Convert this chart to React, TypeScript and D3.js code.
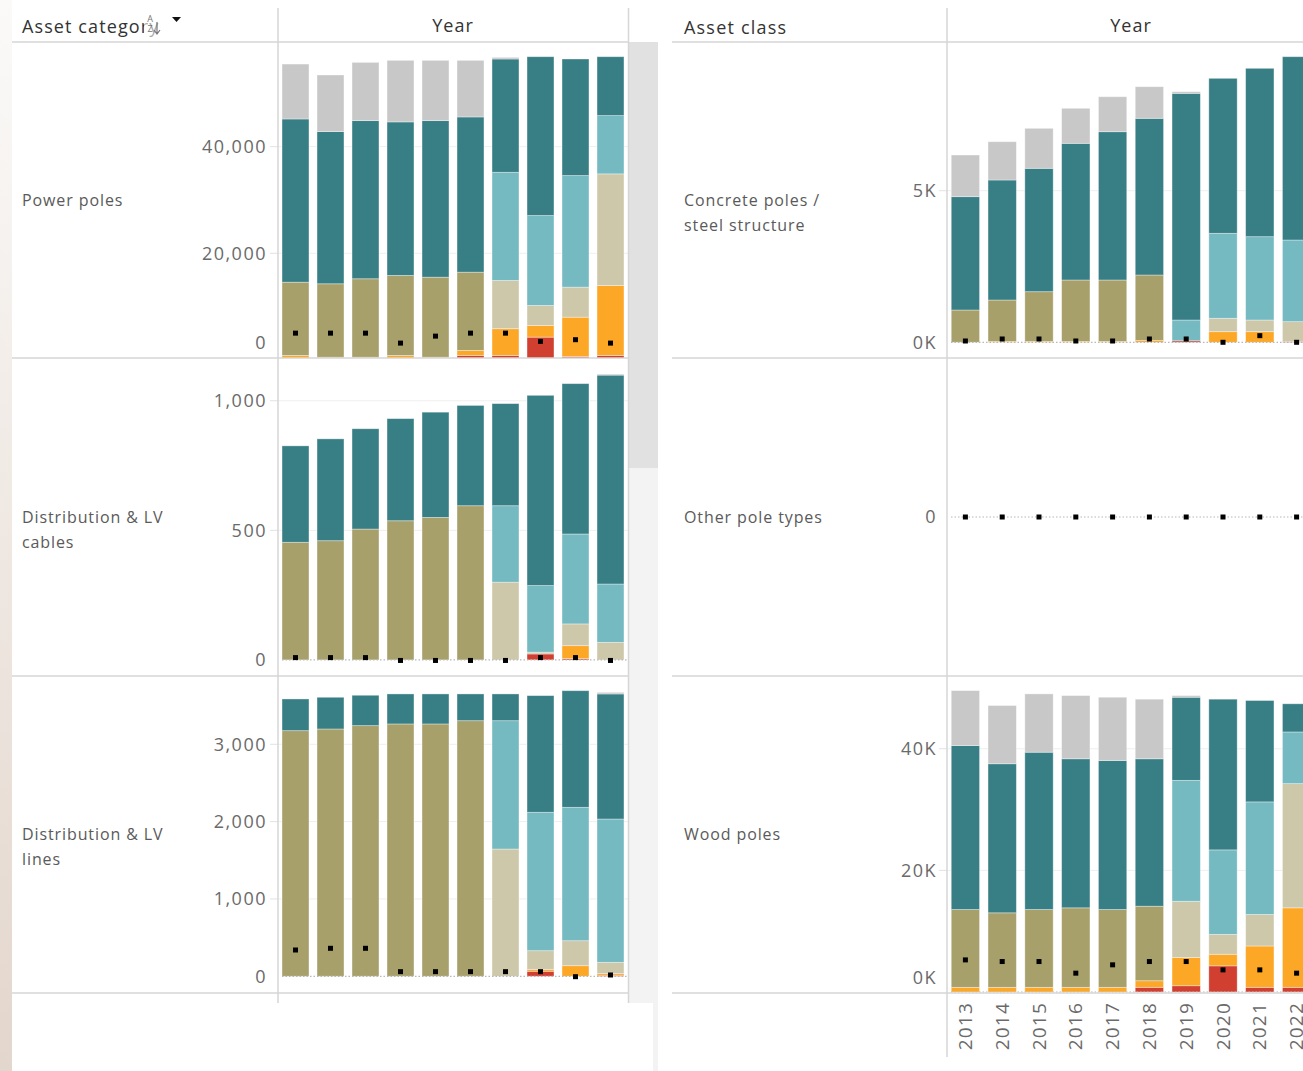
import React from "react";
import * as d3 from "d3";

const years = ["2013", "2014", "2015", "2016", "2017", "2018", "2019", "2020", "2021", "2022"];
const seriesKeys = ["veryPoor", "poor", "fairLegacy", "fair", "good", "veryGood", "unrated"];
const seriesColors = ["#d03f30", "#fda726", "#a8a06b", "#cdc8aa", "#75b9c1", "#387e85", "#c8c8c8"];

const powerPoles = {
  veryPoor: [0, 0, 0, 0, 0, 840, 840, 4270, 650, 840],
  poor: [840, 500, 500, 840, 500, 940, 5010, 2200, 7370, 13120],
  fairLegacy: [13740, 13780, 14720, 15000, 15020, 14680, 0, 0, 0, 0],
  fair: [0, 0, 0, 0, 0, 0, 9050, 3740, 5630, 20940],
  good: [0, 0, 0, 0, 0, 0, 20300, 16870, 20930, 10930],
  veryGood: [30620, 28550, 29670, 28810, 29370, 29120, 21250, 29800, 21870, 11050],
  unrated: [10300, 10620, 10930, 11550, 11310, 10620, 310, 0, 0, 0],
};
const powerPolesMarker = [5020, 5020, 5020, 3150, 4460, 5020, 5020, 3470, 3790, 3150];

const cables = {
  veryPoor: [0, 0, 0, 0, 0, 0, 0, 23, 5, 0],
  poor: [0, 0, 0, 0, 0, 0, 0, 0, 50, 0],
  fairLegacy: [454, 460, 505, 537, 550, 595, 0, 0, 0, 0],
  fair: [0, 0, 0, 0, 0, 0, 300, 7, 84, 68],
  good: [0, 0, 0, 0, 0, 0, 295, 257, 347, 225],
  veryGood: [372, 393, 387, 394, 406, 387, 394, 734, 580, 806],
  unrated: [0, 0, 0, 0, 0, 0, 0, 0, 0, 4],
};
const cablesMarker = [9, 9, 9, -2, -2, -2, -2, 9, 9, -2];

const lines = {
  veryPoor: [0, 0, 0, 0, 0, 0, 0, 65, 0, 13],
  poor: [0, 0, 0, 0, 0, 0, 0, 25, 137, 21],
  fairLegacy: [3176, 3198, 3241, 3263, 3263, 3305, 0, 0, 0, 0],
  fair: [0, 0, 0, 0, 0, 0, 1646, 241, 323, 147],
  good: [0, 0, 0, 0, 0, 0, 1659, 1790, 1725, 1853],
  veryGood: [410, 410, 393, 388, 388, 346, 346, 1508, 1508, 1617],
  unrated: [0, 0, 0, 0, 0, 0, 0, 0, 0, 21],
};
const linesMarker = [340, 362, 362, 60, 60, 60, 60, 60, -5, 17];

const concrete = {
  veryPoor: [0, 0, 0, 0, 0, 0, 50, 0, 0, 30],
  poor: [0, 30, 30, 30, 30, 60, 0, 350, 350, 0],
  fairLegacy: [1065, 1365, 1639, 2025, 2025, 2160, 0, 0, 0, 0],
  fair: [0, 0, 0, 0, 0, 0, 0, 442, 385, 650],
  good: [0, 0, 0, 0, 0, 0, 685, 2803, 2748, 2694],
  veryGood: [3738, 3958, 4070, 4508, 4891, 5168, 7477, 5112, 5554, 6046],
  unrated: [1374, 1263, 1319, 1155, 1154, 1042, 53, 0, 0, 0],
};
const concreteMarker = [43, 109, 109, 43, 43, 109, 109, 0, 219, 0];

const otherPoles = {
  veryPoor: [0, 0, 0, 0, 0, 0, 0, 0, 0, 0],
  poor: [0, 0, 0, 0, 0, 0, 0, 0, 0, 0],
  fairLegacy: [0, 0, 0, 0, 0, 0, 0, 0, 0, 0],
  fair: [0, 0, 0, 0, 0, 0, 0, 0, 0, 0],
  good: [0, 0, 0, 0, 0, 0, 0, 0, 0, 0],
  veryGood: [0, 0, 0, 0, 0, 0, 0, 0, 0, 0],
  unrated: [0, 0, 0, 0, 0, 0, 0, 0, 0, 0],
};
const otherPolesMarker = [0, 0, 0, 0, 0, 0, 0, 0, 0, 0];

const wood = {
  veryPoor: [0, 0, 0, 0, 0, 770, 1030, 4300, 770, 770],
  poor: [770, 770, 770, 770, 770, 1080, 4640, 1910, 6800, 13070],
  fairLegacy: [12790, 12250, 12790, 13070, 12790, 12260, 0, 0, 0, 0],
  fair: [0, 0, 0, 0, 0, 0, 9250, 3270, 5180, 20420],
  good: [0, 0, 0, 0, 0, 0, 19880, 13890, 18510, 8500],
  veryGood: [26960, 24510, 25870, 24510, 24510, 24240, 13670, 24780, 16670, 4630],
  unrated: [9040, 9580, 9590, 10390, 10400, 9800, 270, 0, 0, 0],
};
const woodMarker = [5280, 5010, 5010, 3100, 4470, 5010, 5010, 3640, 3640, 3100];

const leftCategories = [["Power poles"], ["Distribution & LV", "cables"], ["Distribution & LV", "lines"]];
const rightCategories = [["Concrete poles /", "steel structure"], ["Other pole types"], ["Wood poles"]];

const leftTicks = [[0, 20000, 40000], [0, 500, 1000], [0, 1000, 2000, 3000]];
const rightTicks = [[0, 5000], [0], [0, 20000, 40000]];

const FONT = "'Open Sans', 'Noto Sans', sans-serif";
const ROWS: [number, number][] = [[42, 358], [358, 676], [676, 993]];
const LINE = "#d6d6d6";

type Pane = {
  id: string;
  data: Record<string, number[]>;
  marker: number[];
  domain: [number, number];
  ticks: number[];
  fmt: (v: number) => string;
  label: string[];
};

const fmtComma = (v: number) => d3.format(",")(v);
const fmtK = (v: number) => (v === 0 ? "0K" : d3.format("d")(v / 1000) + "K");

const leftPanes: Pane[] = [
  { id: "l0", data: powerPoles, marker: powerPolesMarker, domain: [356, 59640], ticks: leftTicks[0], fmt: fmtComma, label: leftCategories[0] },
  { id: "l1", data: cables, marker: cablesMarker, domain: [-62, 1165], ticks: leftTicks[1], fmt: fmtComma, label: leftCategories[1] },
  { id: "l2", data: lines, marker: linesMarker, domain: [-216, 3883], ticks: leftTicks[2], fmt: fmtComma, label: leftCategories[2] },
];
const rightPanes: Pane[] = [
  { id: "r0", data: concrete, marker: concreteMarker, domain: [-518, 9905], ticks: rightTicks[0], fmt: fmtK, label: rightCategories[0] },
  { id: "r1", data: otherPoles, marker: otherPolesMarker, domain: [-1, 1], ticks: rightTicks[1], fmt: (v) => String(v), label: rightCategories[1] },
  { id: "r2", data: wood, marker: woodMarker, domain: [-163, 51960], ticks: rightTicks[2], fmt: fmtK, label: rightCategories[2] },
];

function PaneView({ pane, row, x0, x1, clipRight, labelX, axisX }: {
  pane: Pane; row: number; x0: number; x1: number; clipRight: number; labelX: number; axisX: number;
}) {
  const [top, bottom] = ROWS[row];
  const xs = d3.scaleBand<string>().domain(years).range([x0, x1]).paddingInner(0.23).paddingOuter(0.115);
  const ys = d3.scaleLinear().domain(pane.domain).range([bottom, top]);
  const table = years.map((y, i) => {
    const o: any = { year: y };
    seriesKeys.forEach((k) => (o[k] = pane.data[k][i]));
    return o;
  });
  const stacked = d3.stack<any>().keys(seriesKeys)(table);
  const clipId = "clip-" + pane.id;
  const mid = (top + bottom) / 2;
  return (
    <g>
      <defs>
        <clipPath id={clipId}>
          <rect x={x0} y={top + 1} width={clipRight - x0} height={bottom - top - 1} />
        </clipPath>
      </defs>
      {pane.label.map((t, i) => (
        <text key={i} x={labelX} y={mid + i * 25} dy="0.35em" fontSize={16} letterSpacing={0.9}
          fill="#5a5a5a" fontFamily={FONT}>{t}</text>
      ))}
      {pane.ticks.map((t) => {
        const yy = ys(t);
        return (
          <g key={t}>
            {t !== 0 && (
              <line x1={x0} x2={clipRight} y1={yy} y2={yy} stroke="#efefef" strokeWidth={1} />
            )}
            {t !== 0 && <line x1={x0 - 8} x2={x0} y1={yy} y2={yy} stroke="#e2e2e2" strokeWidth={1} />}
            <text x={axisX} y={Math.min(yy, bottom - 15)} dy="0.35em" textAnchor="end" fontSize={18}
              letterSpacing={1.5} fill="#6a6a6a" fontFamily={FONT}>{pane.fmt(t)}</text>
          </g>
        );
      })}
      <g clipPath={`url(#${clipId})`}>
        {stacked.map((s, si) => (
          <g key={s.key} fill={seriesColors[si]}>
            {s.map((d, i) => {
              const h = ys(d[0]) - ys(d[1]);
              if (h <= 0) return null;
              return (
                <rect key={i} x={xs(years[i])} width={xs.bandwidth()} y={ys(d[1])} height={h}
                  stroke="#ffffff" strokeOpacity={0.45} strokeWidth={0.8} />
              );
            })}
          </g>
        ))}
        <line x1={x0 + 4} x2={clipRight} y1={ys(0)} y2={ys(0)} stroke="#b8b8b8" strokeWidth={1.2} strokeDasharray="1.5,2" />
        {pane.marker.map((v, i) => (
          <rect key={i} x={(xs(years[i]) as number) + xs.bandwidth() / 2 - 2.5} y={ys(v) - 2.5} width={5} height={5} fill="#000" />
        ))}
      </g>
    </g>
  );
}

export default function App() {
  const leftX0 = 278, leftX1 = 628;
  const rightX0 = 947, rightX1 = 1315;
  const xsRight = d3.scaleBand<string>().domain(years).range([rightX0, rightX1]).paddingInner(0.23).paddingOuter(0.115);
  return (
    <div>
      <style>{"body{margin:0;background:#fff}"}</style>
      <svg width={1303} height={1071} style={{ display: "block" }}>
        <defs>
          <linearGradient id="edge" x1="0" y1="0" x2="0" y2="1">
            <stop offset="0" stopColor="#fbfaf9" />
            <stop offset="1" stopColor="#e3d6cc" />
          </linearGradient>
        </defs>
        <rect x={0} y={0} width={1303} height={1071} fill="#fff" />
        <rect x={0} y={0} width={12} height={1071} fill="url(#edge)" />

        {/* scrollbar of left panel */}
        <rect x={629} y={42} width={29} height={426} fill="#e1e1e1" />
        <rect x={629} y={468} width={29} height={535} fill="#f3f3f3" />
        <rect x={653} y={1003} width={5} height={68} fill="#f3f3f3" />

        {/* left headers */}
        <text x={22} y={27} dy="0.35em" fontSize={18} letterSpacing={1.1} fill="#333" fontFamily={FONT}>Asset category</text>
        <rect x={144} y={14} width={24} height={26} fill="#fff" opacity={0.6} />
        <text x={150} y={22} fontSize={9} fill="#777" fontFamily={FONT} textAnchor="middle">A</text>
        <text x={150} y={32} fontSize={9} fill="#777" fontFamily={FONT} textAnchor="middle">Z</text>
        <path d="M157,22 L157,33 M154,30 L157,34 L160,30" stroke="#777" strokeWidth={1.2} fill="none" />
        <path d="M172,17 L181,17 L176.5,22 Z" fill="#111" />
        <text x={453} y={26} dy="0.35em" fontSize={18} letterSpacing={1} fill="#333" fontFamily={FONT} textAnchor="middle">Year</text>

        {/* right headers */}
        <text x={684} y={28} dy="0.35em" fontSize={18} letterSpacing={1.2} fill="#333" fontFamily={FONT}>Asset class</text>
        <text x={1131} y={26} dy="0.35em" fontSize={18} letterSpacing={1} fill="#333" fontFamily={FONT} textAnchor="middle">Year</text>

        {leftPanes.map((p, i) => (
          <PaneView key={p.id} pane={p} row={i} x0={leftX0} x1={leftX1} clipRight={leftX1} labelX={22} axisX={267} />
        ))}
        {rightPanes.map((p, i) => (
          <PaneView key={p.id} pane={p} row={i} x0={rightX0} x1={rightX1} clipRight={1303} labelX={684} axisX={937} />
        ))}

        {/* grid frame lines */}
        {[42, 358, 676, 993].map((y) => (
          <g key={y}>
            <line x1={12} x2={628} y1={y} y2={y} stroke={LINE} strokeWidth={1.5} />
            <line x1={672} x2={1303} y1={y} y2={y} stroke={LINE} strokeWidth={1.5} />
          </g>
        ))}
        <line x1={278} x2={278} y1={8} y2={1003} stroke={LINE} strokeWidth={1.5} />
        <line x1={628.5} x2={628.5} y1={8} y2={1003} stroke={LINE} strokeWidth={1.5} />
        <line x1={947} x2={947} y1={8} y2={1057} stroke={LINE} strokeWidth={1.5} />

        {/* year axis */}
        {years.map((y) => {
          const cx = (xsRight(y) as number) + xsRight.bandwidth() / 2;
          return (
            <text key={y} transform={`translate(${cx},${1002}) rotate(-90)`} dy="0.35em" textAnchor="end"
              fontSize={19} letterSpacing={1.2} fill="#6a6a6a" fontFamily={FONT}>{y}</text>
          );
        })}
      </svg>
    </div>
  );
}
